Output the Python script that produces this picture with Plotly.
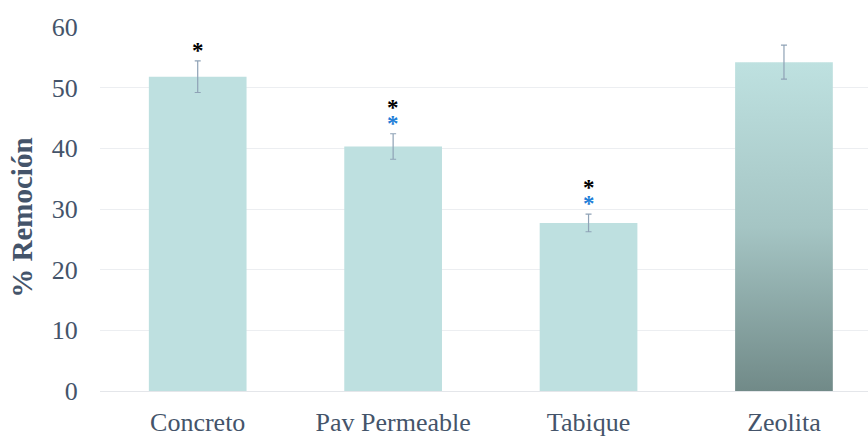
import plotly.graph_objects as go

# Removal percentage by filter material
categories = ["Concreto", "Pav Permeable", "Tabique", "Zeolita"]
removal = [51.8, 40.3, 27.7, 54.2]
removal_err = [2.6, 2.1, 1.45, 2.8]
# significance markers drawn above each bar
sig_black = [True, True, True, False]
sig_blue = [False, True, True, False]
y_ticks = [0, 10, 20, 30, 40, 50, 60]

TEXT = "#44546A"
BAR = "#BEE0E0"
BAR_W = 0.5
FONT = "Liberation Serif"

x = list(range(len(categories)))
fig = go.Figure()

# plain bars (the last one gets a gradient overlay below)
fig.add_trace(go.Bar(
    x=x, y=removal, width=BAR_W,
    marker=dict(color=[BAR] * (len(x) - 1) + ["rgba(0,0,0,0)"], line=dict(width=0)),
    hoverinfo="skip",
))

# gradient-filled reference bar (Zeolita)
i = len(x) - 1
xl, xr = x[i] - BAR_W / 2, x[i] + BAR_W / 2
fig.add_trace(go.Scatter(
    x=[xl, xr, xr, xl, xl], y=[0, 0, removal[i], removal[i], 0],
    mode="lines", fill="toself", line=dict(width=0),
    fillgradient=dict(type="vertical",
                      colorscale=[[0, "#718A88"], [0.5, "#A5C5C4"], [1, "#BEE1E0"]]),
    hoverinfo="skip",
))

# error bars on top of every bar
fig.add_trace(go.Scatter(
    x=x, y=removal, mode="markers",
    marker=dict(size=1, opacity=0),
    error_y=dict(type="data", array=removal_err, visible=True,
                 color="#8FA2B6", thickness=1.2, width=3),
    hoverinfo="skip",
))

# significance asterisks: one stacked label per bar
STAR = "<span style='font-size:23px'><b>*</b></span>"
for k in x:
    lines = []
    if sig_black[k]:
        lines.append(STAR)
    if sig_blue[k]:
        lines.append("<span style='color:#1F80D8'>" + STAR + "</span>")
    if not lines:
        continue
    fig.add_annotation(x=k, y=removal[k] + removal_err[k], text="<br>".join(lines),
                       showarrow=False, yanchor="bottom", yshift=-4,
                       font=dict(family=FONT, size=12, color="#000000"))

# rotated y-axis title
fig.add_annotation(xref="paper", yref="paper", x=-0.102, y=0.475,
                   text="<b>% Remoción</b>", textangle=-90, showarrow=False,
                   xanchor="center", yanchor="middle",
                   font=dict(family=FONT, size=29, color=TEXT))

fig.update_layout(
    width=868, height=437,
    margin=dict(l=100, r=0, t=27, b=44),
    paper_bgcolor="white", plot_bgcolor="white",
    showlegend=False,
    font=dict(family=FONT, color=TEXT, size=26),
)
fig.update_xaxes(
    range=[-0.5, 3.43], tickvals=x, ticktext=categories,
    showgrid=False, zeroline=False, showline=False,
    ticks="outside", ticklen=8, tickcolor="rgba(0,0,0,0)",
    tickfont=dict(family=FONT, size=26, color=TEXT),
)
fig.update_yaxes(
    range=[0, 60], tickvals=y_ticks,
    showgrid=True, gridcolor="#ECEEF1", gridwidth=1,
    zeroline=True, zerolinecolor="#E4E6EA", zerolinewidth=1,
    showline=False,
    ticks="outside", ticklen=16, tickcolor="rgba(0,0,0,0)",
    tickfont=dict(family=FONT, size=26, color=TEXT),
)

fig.write_html("out.html")
